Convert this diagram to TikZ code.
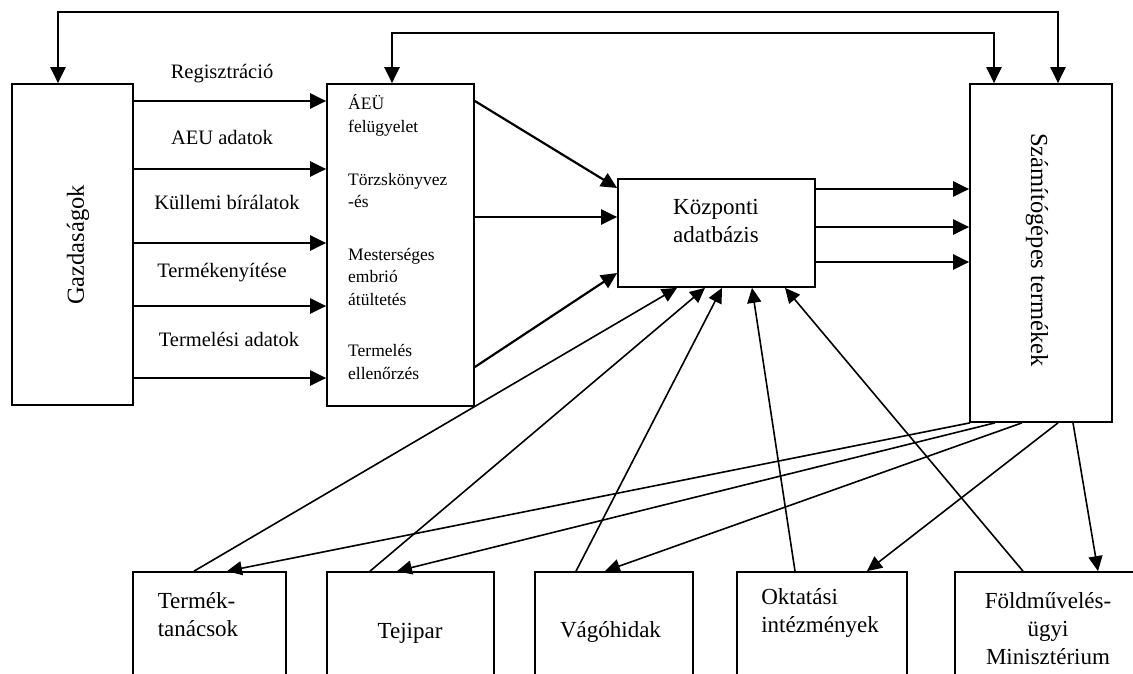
\documentclass[tikz,border=0pt]{standalone}
\usepackage{fontspec}
\setmainfont{Liberation Serif}
\usetikzlibrary{arrows.meta}

\begin{document}
\begin{tikzpicture}[x=1pt,y=-1pt,
    box/.style={draw, line width=1.7pt, inner sep=0pt},
    arr/.style={line width=2.2pt, -{Triangle[length=16pt,width=15pt]}},
    arrb/.style={line width=2.2pt, {Triangle[length=16pt,width=15pt]}-{Triangle[length=16pt,width=15pt]}},
    thinarr/.style={line width=1.6pt, -{Triangle[length=15pt,width=14pt]}},
    lbl/.style={font=\fontsize{20.5}{24}\selectfont, inner sep=0pt},
    small/.style={font=\fontsize{17.5}{22.5}\selectfont, inner sep=0pt, align=left, anchor=west},
    big/.style={font=\fontsize{23}{28}\selectfont, inner sep=0pt, align=center}]
  \clip (0,0) rectangle (1133,673);
  \fill[white] (0,0) rectangle (1133,673);

  % upper row
  \node[box, minimum width=121pt, minimum height=321pt] (gaz) at (72.5,244.5) {};
  \node[font=\fontsize{24.5}{28}\selectfont, rotate=90] (gaztext) at (78,245) {Gazdaságok};
  \node[box, minimum width=147pt, minimum height=322pt] (reg) at (400.5,245) {};
  \node[small] (aeu) at (348,115.5) {ÁEÜ\\felügyelet};
  \node[small] (torzs) at (348,190.5) {Törzskönyvez\\-és};
  \node[small] (embrio) at (348,276.5) {Mesterséges\\embrió\\átültetés};
  \node[small] (ellen) at (348,362) {Termelés\\ellenőrzés};
  \node[box, minimum width=197pt, minimum height=108pt] (kozp) at (716.5,233) {};
  \node[big] (kozptext) at (716,221) {Központi\\adatbázis};
  \node[box, minimum width=142pt, minimum height=338pt] (szam) at (1041,253) {};
  \node[font=\fontsize{24.5}{28}\selectfont, rotate=-90] (szamtext) at (1037,250) {Számítógépes termékek};

  % lower row (cut off at the bottom)
  \node[box, minimum width=153pt, minimum height=148pt] (termek) at (209.5,646) {};
  \node[big, align=left] (termektext) at (198,615) {Termék-\\tanácsok};
  \node[box, minimum width=167pt, minimum height=148pt] (tej) at (410.5,646) {};
  \node[big] (tejtext) at (410,633) {Tejipar};
  \node[box, minimum width=158pt, minimum height=148pt] (vago) at (614,646) {};
  \node[big] (vagotext) at (610.5,632) {Vágóhidak};
  \node[box, minimum width=170pt, minimum height=148pt] (okt) at (822,646) {};
  \node[big, align=left] (okttext) at (820,613) {Oktatási\\intézmények};
  \node[box, minimum width=185pt, minimum height=148pt] (fold) at (1047.5,646) {};
  \node[big] (foldtext) at (1048,628.5) {Földművelés-\\ügyi\\Minisztérium};

  % loops over the top
  \coordinate (outer) at (1058,12);
  \coordinate (inner) at (994,33);
  \draw[arrb] (gaz.north -| 58,0) |- (outer) -- (szam.north -| outer);
  \draw[arrb] (reg.north -| 392,0) |- (inner) -- (szam.north -| inner);

  % data flows
  \foreach \yy/\txt/\up/\sx in {101/Regisztráció/27/-8, 169/AEU adatok/32/-8,
      243/Küllemi bírálatok/41/-3, 306/Termékenyítése/33/-8, 378/Termelési adatok/39/-1}
    \draw[arr] (gaz.east |- 0,\yy) -- (reg.west |- 0,\yy)
      node[lbl, midway, yshift=\up pt, xshift=\sx pt] {\txt};
  \draw[arr] (reg.east |- 0,101) -- (kozp.west |- 0,188);
  \draw[arr] (reg.east |- 0,217) -- (kozp.west |- 0,217);
  \draw[arr] (reg.east |- 0,367) -- (kozp.west |- 0,273);
  \foreach \yy in {189,227,262}
    \draw[arr] (kozp.east |- 0,\yy) -- (szam.west |- 0,\yy);

  % lower row to the database and back
  \foreach \src/\fx/\tx in {termek/-15.5/-39.5, tej/-40.5/-11.5, vago/-38/5.5,
      okt/-27/35.5, fold/-24.5/68.5}
    \draw[thinarr] ([xshift=\fx pt]\src.north) -- ([xshift=\tx pt]kozp.south);
  \foreach \dst/\fx/\tx in {termek/-71/17.5, tej/-46/-13.5, vago/-19/-9,
      okt/17/45, fold/32/50.5}
    \draw[thinarr] ([xshift=\fx pt]szam.south) -- ([xshift=\tx pt]\dst.north);
\end{tikzpicture}
\end{document}
